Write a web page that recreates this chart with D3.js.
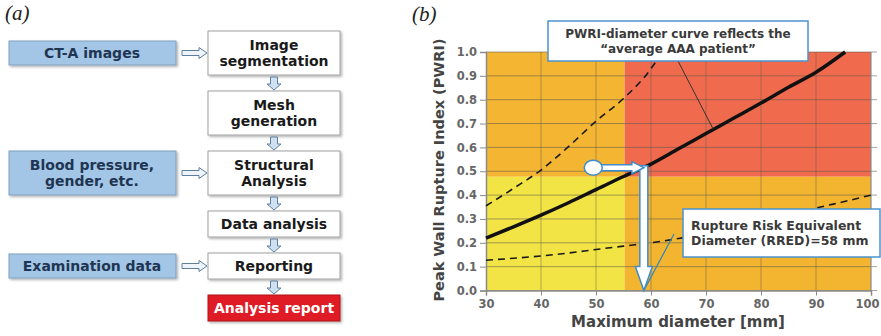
<!DOCTYPE html>
<html>
<head>
<meta charset="utf-8">
<script src="https://cdn.jsdelivr.net/npm/d3@7"></script>
<style>
  body { margin: 0; background: #fff; }
  svg { display: block; }
</style>
</head>
<body>
<svg id="fig" width="881" height="336"></svg>
<script>
"use strict";

// (a) etapes du flowchart et entrees
var steps = [["Image", "segmentation"], ["Mesh", "generation"], ["Structural", "Analysis"],
             ["Data analysis"], ["Reporting"], ["Analysis report"]]
var inputs = [["CT-A images"], ["Blood pressure,", "gender, etc."], ["Examination data"]]
var inputStep = [0, 2, 4]

// (b) courbes PWRI / diametre
var diameters = [30, 35, 40, 45, 50, 55, 60, 65, 70, 75, 80, 85, 90, 95.3]
var pwriMean = [0.22, 0.267, 0.316, 0.368, 0.423, 0.478, 0.53, 0.594, 0.658, 0.722, 0.786, 0.852, 0.915, 1.0]
var upperDiameters = [30, 35, 40, 45, 50, 55, 60, 62]
var pwriUpper = [0.355, 0.428, 0.505, 0.603, 0.71, 0.805, 0.93, 1.0]
var lowerDiameters = [30, 35, 40, 45, 50, 55, 60, 65, 70, 75, 80, 85, 90, 95, 100]
var pwriLower = [0.127, 0.135, 0.145, 0.157, 0.172, 0.186, 0.2, 0.218, 0.238, 0.26, 0.283, 0.31, 0.345, 0.372, 0.40]
var xTicks = [30, 40, 50, 60, 70, 80, 90, 100]
var yTicks = [0, 0.1, 0.2, 0.3, 0.4, 0.5, 0.6, 0.7, 0.8, 0.9, 1.0]
var diameterLimit = 55.2
var pwriLimit = 0.477
var patientDiameter = 49.5
var rredDiameter = 58.7
var rredPwri = 0.515

var svg = d3.select("#fig")
var FONT = "'DejaVu Sans', Verdana, sans-serif"

// polygone d'une fleche creuse horizontale
function hArrow(x0, x1, cy, shaft, head, headLen) {
    var xh = x1 - headLen
    return [[x0, cy - shaft], [xh, cy - shaft], [xh, cy - head], [x1, cy],
            [xh, cy + head], [xh, cy + shaft], [x0, cy + shaft]]
}

// polygone d'une fleche creuse verticale (vers le bas)
function vArrow(cx, y0, y1, shaft, head, headLen) {
    var yh = y1 - headLen
    return [[cx - shaft, y0], [cx - shaft, yh], [cx - head, yh], [cx, y1],
            [cx + head, yh], [cx + shaft, yh], [cx + shaft, y0]]
}

function drawPoly(g, pts) {
    return g.append("path").attr("d", "M" + pts.map(p => p.join(",")).join("L") + "Z")
}

function multiText(g, lines, x, yMid, size, color, anchor) {
    var lh = size * 1.2
    var t = g.append("text")
        .attr("font-family", FONT).attr("font-weight", "bold")
        .attr("font-size", size).attr("fill", color)
        .attr("text-anchor", anchor || "middle")
    lines.forEach((l, i) => {
        t.append("tspan").attr("x", x)
            .attr("y", yMid + (i - (lines.length - 1) / 2) * lh + size * 0.36)
            .text(l)
    })
    return t
}

/***** (a) flowchart *****/
function drawFlow() {
    var g = svg.append("g")
    g.append("text").attr("x", 5).attr("y", 20)
        .attr("font-family", "'Liberation Serif', serif").attr("font-style", "italic")
        .attr("font-size", 21).attr("fill", "#222").text("(a)")

    var defs = svg.append("defs")
    defs.append("filter").attr("id", "shadow").attr("x", "-10%").attr("y", "-20%")
        .attr("width", "130%").attr("height", "160%")
        .append("feDropShadow").attr("dx", 1.5).attr("dy", 1.5).attr("stdDeviation", 1)
        .attr("flood-color", "#000").attr("flood-opacity", 0.3)

    var bx = 208, bw = 132, top = 31, gap = 16
    var boxes = []
    var y = top
    steps.forEach((s, i) => {
        var h = s.length == 2 ? 44 : 26
        boxes.push({y: y, h: h, cy: y + h / 2})
        y += h + gap
    })

    steps.forEach((s, i) => {
        var b = boxes[i]
        var last = i == steps.length - 1
        g.append("rect").attr("x", bx).attr("y", b.y).attr("width", bw).attr("height", b.h)
            .attr("fill", last ? "#df1f26" : "#fff")
            .attr("stroke", last ? "#b01018" : "#a0a0a0").attr("stroke-width", 1)
            .attr("filter", "url(#shadow)")
        multiText(g, s, bx + bw / 2, b.cy, 14, last ? "#fff" : "#1a1a1a")
        if (i > 0) {
            drawPoly(g, vArrow(bx + bw / 2, boxes[i - 1].y + boxes[i - 1].h + 2, b.y - 1, 3.5, 7, 6))
                .attr("fill", "#cfe0f0").attr("stroke", "#5f7f9f").attr("stroke-width", 1)
        }
    })

    inputs.forEach((lines, i) => {
        var b = boxes[inputStep[i]]
        var h = lines.length == 2 ? 44 : 24
        g.append("rect").attr("x", 9).attr("y", b.cy - h / 2).attr("width", 167).attr("height", h)
            .attr("fill", "#a3c6e6").attr("stroke", "#7f9fc0").attr("stroke-width", 1)
            .attr("filter", "url(#shadow)")
        multiText(g, lines, 92, b.cy, 14, "#1f3552")
        drawPoly(g, hArrow(182, 207, b.cy, 2.5, 5.5, 8))
            .attr("fill", "#eef4fa").attr("stroke", "#5f7f9f").attr("stroke-width", 1)
    })
}

/***** (b) graphique PWRI *****/
function drawChart() {
    var x = d3.scaleLinear().domain([30, 100]).range([486, 871])
    var y = d3.scaleLinear().domain([0, 1]).range([290.5, 52])
    var g = svg.append("g")

    g.append("text").attr("x", 412).attr("y", 21)
        .attr("font-family", "'Liberation Serif', serif").attr("font-style", "italic")
        .attr("font-size", 21).attr("fill", "#222").text("(b)")

    // zones de risque
    var zones = [
        {x0: 30, x1: diameterLimit, y0: pwriLimit, y1: 1, c: "#f4b632"},
        {x0: diameterLimit, x1: 100, y0: pwriLimit, y1: 1, c: "#f06a4e"},
        {x0: 30, x1: diameterLimit, y0: 0, y1: pwriLimit, c: "#f2e445"},
        {x0: diameterLimit, x1: 100, y0: 0, y1: pwriLimit, c: "#f3b52f"}
    ]
    g.selectAll(".zone").data(zones).enter().append("rect")
        .attr("x", d => x(d.x0)).attr("y", d => y(d.y1))
        .attr("width", d => x(d.x1) - x(d.x0)).attr("height", d => y(d.y0) - y(d.y1))
        .attr("fill", d => d.c)

    // grille
    g.selectAll(".hgrid").data(yTicks).enter().append("line")
        .attr("x1", x(30)).attr("x2", x(100) + 6)
        .attr("y1", d => y(d)).attr("y2", d => y(d))
        .attr("stroke", "#5a5a50").attr("stroke-opacity", 0.55).attr("stroke-width", 1)
    g.selectAll(".vgrid").data(xTicks.slice(1, -1)).enter().append("line")
        .attr("x1", d => x(d)).attr("x2", d => x(d))
        .attr("y1", y(1)).attr("y2", y(0))
        .attr("stroke", "#5a5a50").attr("stroke-opacity", 0.45).attr("stroke-width", 1)
    g.append("line").attr("x1", x(100)).attr("x2", x(100)).attr("y1", y(1)).attr("y2", y(0))
        .attr("stroke", "#8a8a8a").attr("stroke-width", 1.2)

    // axes
    var yAxis = d3.axisLeft(y).tickValues(yTicks).tickFormat(d3.format(".1f")).tickSize(6)
    var xAxis = d3.axisBottom(x).tickValues(xTicks).tickSize(5)
    var ya = g.append("g").attr("transform", "translate(" + x(30) + ",0)").call(yAxis)
    var xa = g.append("g").attr("transform", "translate(0," + y(0) + ")").call(xAxis)
    ;[ya, xa].forEach(a => {
        a.select(".domain").attr("stroke", "#8a8a8a").attr("stroke-width", 1.5)
        a.selectAll(".tick line").attr("stroke", "#8a8a8a")
        a.selectAll("text").attr("font-family", FONT).attr("font-weight", "bold")
            .attr("font-size", 11.5).attr("fill", "#666")
    })
    ya.selectAll("text").attr("x", -9)
    xa.selectAll("text").attr("y", 9)
    // le dernier libelle touche le bord : on le rentre un peu
    xa.selectAll("text").filter(d => d == 100).attr("dx", -4)

    g.append("text").attr("x", 678).attr("y", 327)
        .attr("text-anchor", "middle").attr("font-family", FONT).attr("font-weight", "bold")
        .attr("font-size", 15).attr("fill", "#444").text("Maximum diameter [mm]")
    g.append("text").attr("transform", "translate(444,170) rotate(-90)")
        .attr("text-anchor", "middle").attr("font-family", FONT).attr("font-weight", "bold")
        .attr("font-size", 14.5).attr("fill", "#444").text("Peak Wall Rupture Index (PWRI)")

    // courbes
    var line = d3.line().x(d => x(d[0])).y(d => y(d[1])).curve(d3.curveMonotoneX)
    g.append("path").datum(d3.zip(lowerDiameters, pwriLower)).attr("d", line)
        .attr("fill", "none").attr("stroke", "#1a1a1a").attr("stroke-width", 1.6)
        .attr("stroke-dasharray", "7,5")
    g.append("path").datum(d3.zip(upperDiameters, pwriUpper)).attr("d", line)
        .attr("fill", "none").attr("stroke", "#1a1a1a").attr("stroke-width", 1.6)
        .attr("stroke-dasharray", "7,5")
    g.append("path").datum(d3.zip(diameters, pwriMean)).attr("d", line)
        .attr("fill", "none").attr("stroke", "#111").attr("stroke-width", 3.5)

    // lignes de rappel
    g.append("line").attr("x1", 678).attr("y1", 61).attr("x2", x(71.3)).attr("y2", y(0.677))
        .attr("stroke", "#333").attr("stroke-width", 1)
    g.append("line").attr("x1", x(rredDiameter)).attr("y1", y(0)).attr("x2", 674).attr("y2", 234)
        .attr("stroke", "#2e86c1").attr("stroke-width", 1.2)

    // fleches blanches : PWRI du patient -> diametre equivalent
    var cy = y(rredPwri)
    drawPoly(g, vArrow(x(rredDiameter), cy - 2, y(0), 4, 8.5, 24))
        .attr("fill", "#fff").attr("stroke", "#3f8ccc").attr("stroke-width", 1.5)
    drawPoly(g, hArrow(x(patientDiameter) + 8, x(rredDiameter), cy, 3, 6, 12))
        .attr("fill", "#fff").attr("stroke", "#3f8ccc").attr("stroke-width", 1.5)
    g.append("ellipse").attr("cx", x(patientDiameter)).attr("cy", cy).attr("rx", 9).attr("ry", 7.5)
        .attr("fill", "#fff").attr("stroke", "#3f8ccc").attr("stroke-width", 1.5)

    // encadres
    g.append("rect").attr("x", 548).attr("y", 21).attr("width", 260).attr("height", 40)
        .attr("fill", "#fff").attr("stroke", "#4a93cf").attr("stroke-width", 1.5)
    multiText(g, ["PWRI-diameter curve reflects the", "\u201caverage AAA patient\u201d"], 678, 41, 12, "#3a3a3a")

    g.append("rect").attr("x", 683).attr("y", 209).attr("width", 197).attr("height", 48)
        .attr("fill", "#fff").attr("stroke", "#4a93cf").attr("stroke-width", 1.5)
    multiText(g, ["Rupture Risk Equivalent", "Diameter (RRED)=58 mm"], 691, 233, 12.5, "#3a3a3a", "start")
}

drawFlow()
drawChart()
</script>
</body>
</html>
